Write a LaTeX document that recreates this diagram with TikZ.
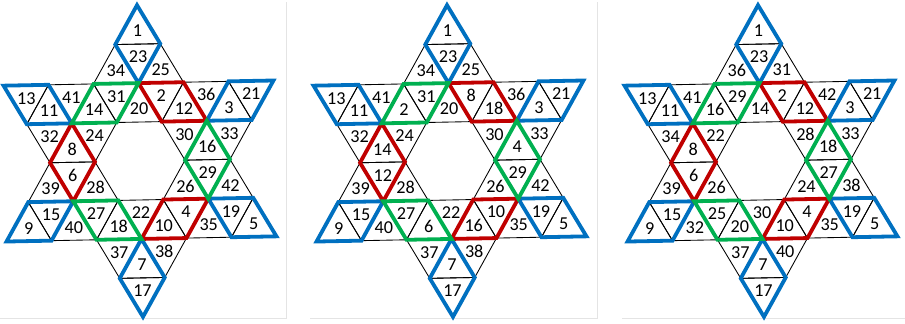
\documentclass[tikz,border=0pt]{standalone}
\usepackage{fontspec}
\setmainfont{Carlito}
\usepackage{xcolor}
\definecolor{PairBlue}{HTML}{0070C0}
\definecolor{PairRed}{HTML}{C00000}
\definecolor{PairGreen}{HTML}{00B050}
\definecolor{FrameGray}{HTML}{E4E4E4}
\tikzset{
    % thin edges of the small triangles
    tile/.style={
        draw=black,
        line width=0.55pt,
        line join=round
    },
    % numbers inside the triangles
    num/.style={
        font=\fontsize{11.5}{13}\selectfont,
        inner sep=0pt
    },
    % thick outlines round two triangles
    bluepair/.style={draw=PairBlue, line width=2.4pt, line join=miter},
    redpair/.style={draw=PairRed, line width=2.4pt, line join=miter},
    greenpair/.style={draw=PairGreen, line width=2.4pt, line join=miter},
    % faint panel edges
    frame/.style={draw=FrameGray, line width=0.6pt},
    % one star per panel, unit = side of a small triangle
    star1/.style={shift={(3.111,-3.578)}, rotate=1.1, x=1cm, y=0.866cm},
    star2/.style={shift={(10.0,-3.578)}, rotate=1.1, x=1cm, y=0.866cm},
    star3/.style={shift={(16.911,-3.578)}, rotate=1.1, x=1cm, y=0.866cm}
}

\begin{document}
\begin{tikzpicture}
    \useasboundingbox (0,0) rectangle (20.111,-7.178);

    % Panel edges
    \draw[frame] (0,-7.067) -- (6.356,-7.067) -- (6.356,-0.044);
    \draw[frame] (6.889,-7.067) -- (13.267,-7.067) -- (13.267,-0.044);
    \draw[frame] (13.822,-7.067) -- (20.111,-7.067);

    % Small triangles: type/x/row/number in star 1/2/3
    \foreach \t/\a/\k/\la/\lb/\lc [count=\i] in {
        u/0/0/1/1/1,
        u/-0.5/1/34/34/36, d/0/1/23/23/23, u/0.5/1/25/25/31,
        d/-2.5/2/13/13/13, u/-2/2/11/11/11, d/-1.5/2/41/41/41,
        u/-1/2/14/2/16, d/-0.5/2/31/31/29, u/0/2/20/20/14,
        d/0.5/2/2/8/2, u/1/2/12/18/12, d/1.5/2/36/36/42,
        u/2/2/3/3/3, d/2.5/2/21/21/21,
        d/-2/3/32/32/34, u/-1.5/3/8/14/8, d/-1/3/24/24/22,
        d/1/3/30/30/28, u/1.5/3/16/4/18, d/2/3/33/33/33,
        u/-2/4/39/39/39, d/-1.5/4/6/12/6, u/-1/4/28/28/26,
        u/1/4/26/26/24, d/1.5/4/29/29/27, u/2/4/42/42/38,
        u/-2.5/5/9/9/9, d/-2/5/15/15/15, u/-1.5/5/40/40/32,
        d/-1/5/27/27/25, u/-0.5/5/18/6/20, d/0/5/22/22/30,
        u/0.5/5/10/16/10, d/1/5/4/10/4, u/1.5/5/35/35/35,
        d/2/5/19/19/19, u/2.5/5/5/5/5,
        d/-0.5/6/37/37/37, u/0/6/7/7/7, d/0.5/6/38/38/40,
        d/0/7/17/17/17} {
        \foreach \fig/\lab in {1/\la, 2/\lb, 3/\lc} {
            \begin{scope}[star\fig]
                \pgfmathsetmacro{\ytop}{4-\k}
                \if\t u
                    \draw[tile] (\a,\ytop) -- (\a-0.5,\ytop-1) -- (\a+0.5,\ytop-1) -- cycle;
                    \node[num] (f\fig t\i) at (\a,\ytop-2/3) {\lab};
                \else
                    \draw[tile] (\a-0.5,\ytop) -- (\a+0.5,\ytop) -- (\a,\ytop-1) -- cycle;
                    \node[num] (f\fig t\i) at (\a,\ytop-1/3) {\lab};
                \fi
            \end{scope}
        }
    }

    % Coloured pairs, same places in every star
    \foreach \fig in {1,2,3} {
        \begin{scope}[star\fig]
            % tips
            \draw[bluepair] (0,4) -- (-0.5,3) -- (0,2) -- (0.5,3) -- cycle;
            \draw[bluepair] (0,-2) -- (-0.5,-3) -- (0,-4) -- (0.5,-3) -- cycle;
            \draw[bluepair] (-3,2) -- (-2,2) -- (-1.5,1) -- (-2.5,1) -- cycle;
            \draw[bluepair] (2,2) -- (3,2) -- (2.5,1) -- (1.5,1) -- cycle;
            \draw[bluepair] (-2.5,-1) -- (-1.5,-1) -- (-2,-2) -- (-3,-2) -- cycle;
            \draw[bluepair] (1.5,-1) -- (2.5,-1) -- (3,-2) -- (2,-2) -- cycle;
            % ring
            \draw[redpair] (0,2) -- (1,2) -- (1.5,1) -- (0.5,1) -- cycle;
            \draw[redpair] (-1.5,1) -- (-1,0) -- (-1.5,-1) -- (-2,0) -- cycle;
            \draw[redpair] (0.5,-1) -- (1.5,-1) -- (1,-2) -- (0,-2) -- cycle;
            \draw[greenpair] (-1,2) -- (0,2) -- (-0.5,1) -- (-1.5,1) -- cycle;
            \draw[greenpair] (1.5,1) -- (2,0) -- (1.5,-1) -- (1,0) -- cycle;
            \draw[greenpair] (-1.5,-1) -- (-0.5,-1) -- (0,-2) -- (-1,-2) -- cycle;
        \end{scope}
    }
\end{tikzpicture}
\end{document}
